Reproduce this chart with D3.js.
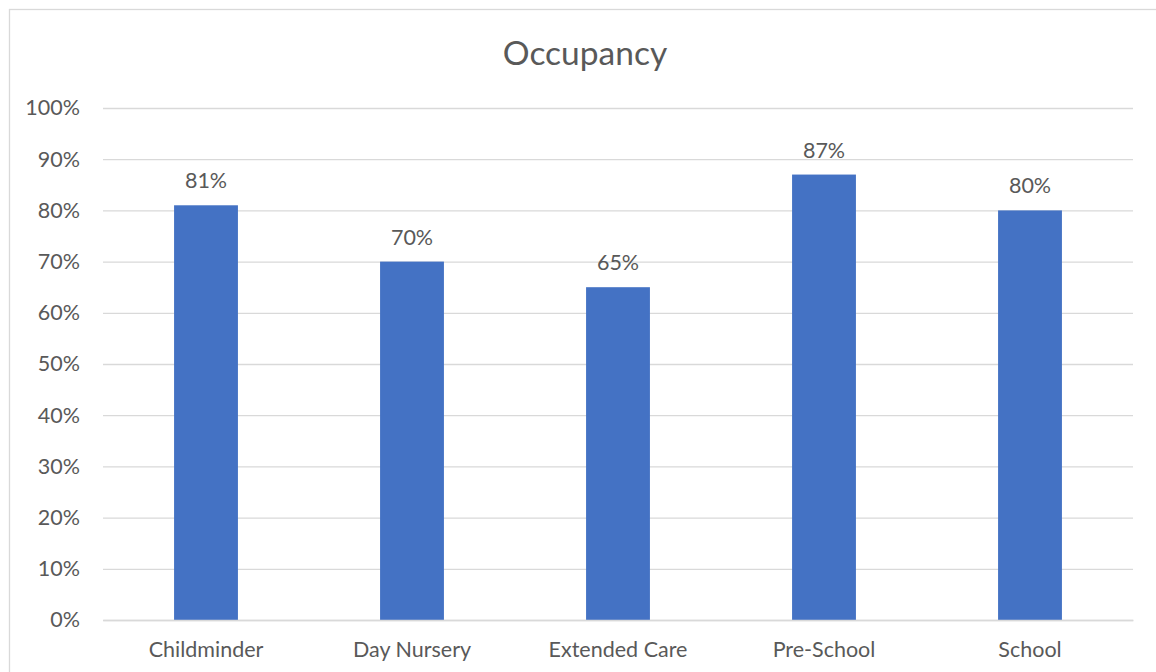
<!DOCTYPE html>
<html><head><meta charset="utf-8">
<script src="https://cdn.jsdelivr.net/npm/d3@7"></script>
<style>body{margin:0;background:#fff}svg{display:block}text{font-family:Lato,"Open Sans",sans-serif;fill:#595959}</style>
</head><body><svg id="c" width="1156" height="672"></svg>
<script>
const categories = ["Childminder","Day Nursery","Extended Care","Pre-School","School"];
const values = [0.81,0.70,0.65,0.87,0.80];
const yTicks = [0,0.1,0.2,0.3,0.4,0.5,0.6,0.7,0.8,0.9,1.0];
const title = "Occupancy";

const svg = d3.select("#c");
svg.append("rect").attr("x",9.5).attr("y",9.5).attr("width",1200).attr("height",700)
  .attr("fill","#fff").attr("stroke","#d9d9d9").attr("stroke-width",1.3);

const x = d3.scaleBand().domain(categories).range([103,1133]).paddingInner(0.69).paddingOuter(0.345);
const y = d3.scaleLinear().domain([0,1]).range([620,108]);
const fmt = d3.format(".0%");
const fs = 21.5;

const yAxis = svg.append("g").attr("transform","translate(103,0)")
  .call(d3.axisLeft(y).tickValues(yTicks).tickFormat(fmt).tickSize(-1030).tickPadding(23));
yAxis.select(".domain").remove();
yAxis.selectAll("line").attr("stroke","#d9d9d9").attr("stroke-width",1.3);
yAxis.selectAll("text").attr("font-size",fs).attr("fill","#595959").style("font-family","Lato,'Open Sans',sans-serif");

svg.selectAll("rect.bar").data(values).join("rect").attr("class","bar")
  .attr("x",(d,i)=>x(categories[i])).attr("width",x.bandwidth())
  .attr("y",d=>y(d)).attr("height",d=>y(0)-y(d)).attr("fill","#4472c4");

svg.selectAll("text.lab").data(values).join("text").attr("class","lab")
  .attr("x",(d,i)=>x(categories[i])+x.bandwidth()/2).attr("y",d=>y(d)-17)
  .attr("text-anchor","middle").attr("font-size",fs).text(d=>fmt(d));

const xAxis = svg.append("g").attr("transform","translate(0,620)")
  .call(d3.axisBottom(x).tickSize(0).tickPadding(22));
xAxis.select(".domain").attr("stroke","#d9d9d9").attr("stroke-width",1.3);
xAxis.selectAll("text").attr("font-size",fs).attr("fill","#595959").style("font-family","Lato,'Open Sans',sans-serif");

svg.append("text").attr("x",585).attr("y",65).attr("text-anchor","middle")
  .attr("font-size",33.5).text(title);
</script></body></html>
